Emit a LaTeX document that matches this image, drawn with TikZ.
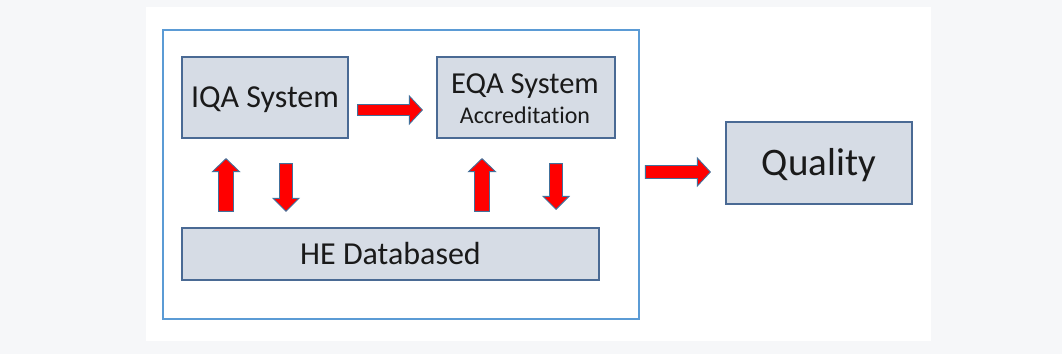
\documentclass[tikz,border=0pt]{standalone}
\usepackage{fontspec}
\setmainfont{Carlito}[Ligatures=NoCommon]
\usetikzlibrary{calc}
\definecolor{bggray}{HTML}{F6F7F9}
\definecolor{boxfill}{HTML}{D6DCE5}
\definecolor{boxline}{HTML}{4A6A94}
\definecolor{outerblue}{HTML}{5B9BD5}
\definecolor{arrowred}{HTML}{FF0000}
\definecolor{arrowline}{HTML}{41719C}
\definecolor{textdark}{HTML}{1A1A1A}
\newcommand\blockarrow[4]{%
  \coordinate (hb) at ($(#2)!13pt!(#1)$);
  \filldraw[barrow] ($(#1)!#3!90:(#2)$) -- ($(hb)!#3!90:(#2)$) -- ($(hb)!#4!90:(#2)$) -- (#2)
    -- ($(hb)!#4!-90:(#2)$) -- ($(hb)!#3!-90:(#2)$) -- ($(#1)!#3!-90:(#2)$) -- cycle;}
\tikzset{
  box/.style={draw=boxline, fill=boxfill, line width=1.3pt, inner sep=0pt, text=textdark},
  outerbox/.style={draw=outerblue, line width=2.5pt, inner sep=0pt},
  label/.style={inner sep=0pt, anchor=base, text=textdark},
  barrow/.style={fill=arrowred, draw=arrowline, line width=0.9pt, line join=miter},
}
\begin{document}
\begin{tikzpicture}[x=1pt, y=-1pt]
\fill[bggray] (0,0) rectangle (1062,354);
\fill[white] (146,7) rectangle (931,341);
\useasboundingbox (0,0) rectangle (1062,354);

\node[outerbox, minimum width=476pt, minimum height=289pt] (outer) at (401,174.5) {};

\node[box, minimum width=166pt, minimum height=81pt, text height=20.6pt, text depth=0pt,
      font=\fontsize{32}{38}\selectfont] (iqa) at (265,97.5) {IQA System};
\node[box, minimum width=178pt, minimum height=81pt] (eqa) at (526,97.5) {};
\node[label, font=\fontsize{30.5}{36}\selectfont] (eqatitle) at (525,93.5) {EQA System};
\node[label, font=\fontsize{24}{29}\selectfont] (eqasub) at (525,123) {Accreditation};
\node[box, minimum width=417pt, minimum height=52pt, text height=20.6pt, text depth=0pt,
      font=\fontsize{32}{38}\selectfont] (he) at (390.5,254) {HE Databased};
\node[box, minimum width=186pt, minimum height=82pt, text height=25pt, text depth=0pt,
      font=\fontsize{39}{47}\selectfont] (quality) at (819,163) {Quality};

\coordinate (a1s) at ($(iqa.east)+(9,12.5)$);
\coordinate (a1e) at ($(eqa.west)+(-14,12.5)$);
\blockarrow{a1s}{a1e}{5.5pt}{14pt}

\coordinate (u1s) at ($(he.north -| iqa.south)+(-39,-16)$);
\coordinate (u1e) at ($(iqa.south)+(-39,20)$);
\blockarrow{u1s}{u1e}{7.5pt}{13.5pt}

\coordinate (d1s) at ($(iqa.south)+(21,25)$);
\coordinate (d1e) at ($(he.north -| iqa.south)+(21,-16)$);
\blockarrow{d1s}{d1e}{6.5pt}{13pt}

\coordinate (u2s) at ($(he.north -| eqa.south)+(-44,-16)$);
\coordinate (u2e) at ($(eqa.south)+(-44,20)$);
\blockarrow{u2s}{u2e}{7.5pt}{13.5pt}

\coordinate (d2s) at ($(eqa.south)+(30,25)$);
\coordinate (d2e) at ($(he.north -| eqa.south)+(30,-18)$);
\blockarrow{d2s}{d2e}{6.5pt}{13pt}

\coordinate (qs) at ($(quality.west)+(-80,9)$);
\coordinate (qe) at ($(quality.west)+(-15,9)$);
\blockarrow{qs}{qe}{6.5pt}{14pt}
\end{tikzpicture}
\end{document}
